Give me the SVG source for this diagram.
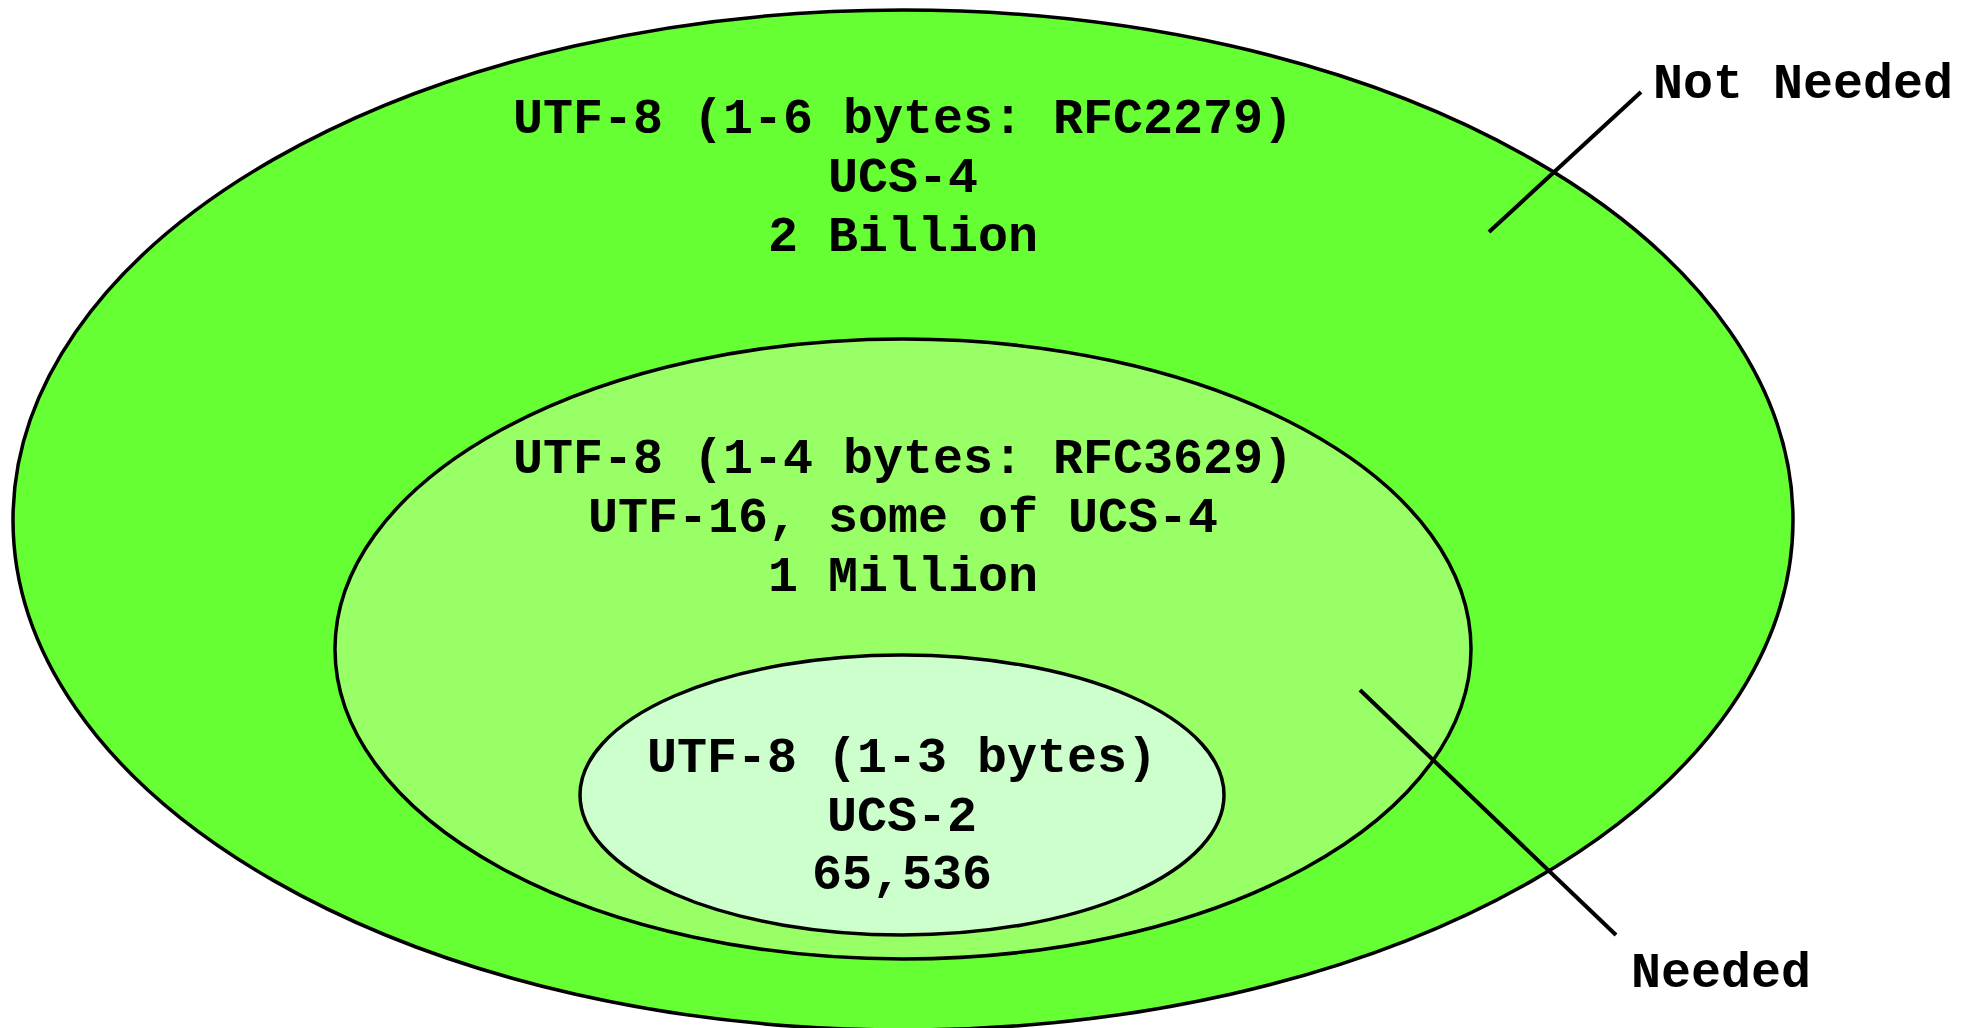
<svg xmlns="http://www.w3.org/2000/svg" width="1973" height="1028" viewBox="0 0 1973 1028">
<style>
.e{stroke:#000;stroke-width:3.5}
.t{font-family:"Liberation Mono","Courier New",monospace;font-weight:bold;font-size:50px;fill:#000}
.c{text-anchor:middle}
.l{stroke:#000;stroke-width:4;fill:none}
</style>
<rect width="1973" height="1028" fill="#fff"/>
<g id="outer">
<ellipse class="e" cx="903" cy="520" rx="890" ry="510" fill="#66FF33"/>
<text class="t c" x="903" y="133">UTF-8 (1-6 bytes: RFC2279)</text>
<text class="t c" x="903" y="192">UCS-4</text>
<text class="t c" x="903" y="251">2 Billion</text>
</g>
<g id="middle">
<ellipse class="e" cx="903" cy="649" rx="568" ry="310" fill="#99FF66"/>
<text class="t c" x="903" y="473">UTF-8 (1-4 bytes: RFC3629)</text>
<text class="t c" x="903" y="532">UTF-16, some of UCS-4</text>
<text class="t c" x="903" y="591">1 Million</text>
</g>
<g id="inner">
<ellipse class="e" cx="902" cy="795" rx="322" ry="140" fill="#CCFFCC"/>
<text class="t c" x="902" y="772">UTF-8 (1-3 bytes)</text>
<text class="t c" x="902" y="831">UCS-2</text>
<text class="t c" x="902" y="889">65,536</text>
</g>
<g id="not-needed">
<text class="t" x="1653" y="98">Not Needed</text>
</g>
<g id="needed">
<text class="t" x="1631" y="987">Needed</text>
</g>
<g id="connectors">
<line class="l" x1="1489" y1="232" x2="1641" y2="92"/>
<line class="l" x1="1360" y1="690" x2="1616" y2="935"/>
</g>
</svg>
